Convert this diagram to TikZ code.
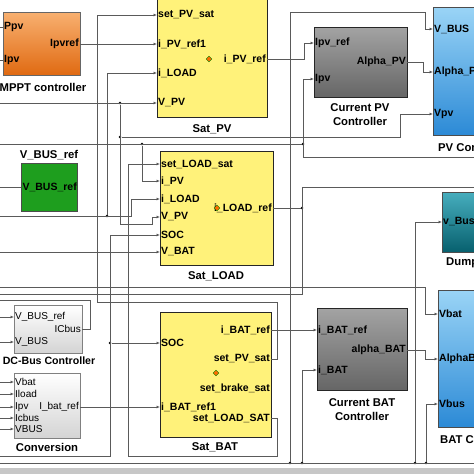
\documentclass[tikz,border=0pt]{standalone}
\usepackage{fontspec}
\setmainfont{Liberation Sans}
\usetikzlibrary{arrows.meta,shadows}

\definecolor{wiregray}{HTML}{5A5A5A}
\definecolor{satyellow}{HTML}{FFF27A}
\definecolor{orangetop}{HTML}{F8B070}
\definecolor{orangebot}{HTML}{E06A12}
\definecolor{graytop}{HTML}{A3A3A3}
\definecolor{graybot}{HTML}{666666}
\definecolor{bluetop}{HTML}{9AD4F6}
\definecolor{bluebot}{HTML}{2C8AD6}
\definecolor{tealtop}{HTML}{47AEBE}
\definecolor{tealbot}{HTML}{07606E}
\definecolor{simgreen}{HTML}{1E9E1E}
\definecolor{lightbot}{HTML}{D4D4D4}

\begin{document}
\begin{tikzpicture}[x=1pt,y=-1pt,
  wire/.style={draw=wiregray,line width=0.7pt},
  sig/.style={wire,-{Latex[length=3.5pt,width=3pt]}},
  dot/.style={circle,fill=black,inner sep=0pt,minimum size=2.6pt},
  blk/.style={draw=black!85,line width=0.6pt,inner sep=0pt,
    drop shadow={shadow xshift=1.3pt,shadow yshift=-1.3pt,opacity=0.6,fill=black!50}},
  satblk/.style={blk,fill=satyellow},
  ctrlblk/.style={blk,top color=graytop,bottom color=graybot},
  convblk/.style={blk,top color=bluetop,bottom color=bluebot,draw=black!70},
  lightblk/.style={blk,top color=white,bottom color=lightbot,draw=black!50},
  port/.style={inner sep=1pt,font=\fontsize{10.5}{12}\selectfont\bfseries},
  smallport/.style={inner sep=1pt,font=\fontsize{10}{12}\selectfont},
  title/.style={inner sep=0pt,font=\fontsize{11.3}{14}\selectfont\bfseries,align=center},
  fcnicon/.style={fill=orange!85!red,draw=green!50!black,line width=0.4pt,minimum size=4pt,inner sep=0pt,rotate=45},
]
\clip (0,0) rectangle (474,474);
\fill[white] (0,0) rectangle (474,474);

% blocks
\node[blk,top color=orangetop,bottom color=orangebot,draw=black!60,minimum width=77pt,minimum height=63pt] (mppt) at (41.5,43.5) {};
\node[satblk,minimum width=110pt,minimum height=122pt] (satpv) at (212,56) {};
\node[ctrlblk,minimum width=93pt,minimum height=70pt] (curpv) at (360.5,62) {};
\node[convblk,minimum width=57pt,minimum height=128pt] (pvconv) at (461.5,71) {};
\node[blk,fill=simgreen,draw=black!70,minimum width=56pt,minimum height=48pt] (vbusref) at (49,187) {};
\node[satblk,minimum width=113pt,minimum height=114pt] (satload) at (216.5,208) {};
\node[blk,top color=tealtop,bottom color=tealbot,draw=black!70,minimum width=48pt,minimum height=60pt] (dump) at (466,222) {};
\node[lightblk,minimum width=68pt,minimum height=48pt] (dcbus) at (48,329) {};
\node[lightblk,minimum width=66pt,minimum height=65pt] (conv) at (47,405.5) {};
\node[satblk,minimum width=111pt,minimum height=125pt] (satbat) at (215.5,374.5) {};
\node[ctrlblk,minimum width=90pt,minimum height=82pt] (curbat) at (362,349) {};
\node[convblk,minimum width=52pt,minimum height=137pt] (batconv) at (464,358.5) {};

% titles
\node[title] (t-mppt) at (43,87) {MPPT controller};
\node[title] (t-satpv) at (212,129) {Sat\_PV};
\node[title] (t-curpv) at (360,115) {Current PV\\Controller};
\node[title,anchor=west] (t-pvconv) at (438,148) {PV Converter};
\node[title] (t-vbusref) at (49,155) {V\_BUS\_ref};
\node[title] (t-satload) at (216,276) {Sat\_LOAD};
\node[title,anchor=west] (t-dump) at (446,263) {Dump Load};
\node[title,font=\fontsize{10.6}{13}\selectfont\bfseries] (t-dcbus) at (49,361) {DC-Bus Controller};
\node[title] (t-conv) at (47,447) {Conversion};
\node[title] (t-satbat) at (215,447) {Sat\_BAT};
\node[title] (t-curbat) at (362,410) {Current BAT\\Controller};
\node[title,anchor=west] (t-batconv) at (440,440) {BAT Converter};

% ports
\coordinate (mppt-i1) at (3,27); \node[port,anchor=west] (l-mppt-i1) at (mppt-i1) {Ppv};
\coordinate (mppt-i2) at (3,60); \node[port,anchor=west] (l-mppt-i2) at (mppt-i2) {Ipv};
\coordinate (mppt-o1) at (80,44); \node[port,anchor=east] (l-mppt-o1) at (mppt-o1) {Ipvref};

\coordinate (satpv-i1) at (157,15); \node[port,anchor=west] (l-satpv-i1) at (satpv-i1) {set\_PV\_sat};
\coordinate (satpv-i2) at (157,44); \node[port,anchor=west] (l-satpv-i2) at (satpv-i2) {i\_PV\_ref1};
\coordinate (satpv-i3) at (157,73); \node[port,anchor=west] (l-satpv-i3) at (satpv-i3) {i\_LOAD};
\coordinate (satpv-i4) at (157,103); \node[port,anchor=west] (l-satpv-i4) at (satpv-i4) {V\_PV};
\coordinate (satpv-o1) at (267,59); \node[port,anchor=east] (l-satpv-o1) at (satpv-o1) {i\_PV\_ref};
\node[fcnicon] (ic-satpv) at (209,59) {};

\coordinate (curpv-i1) at (314,43); \node[port,anchor=west] (l-curpv-i1) at (curpv-i1) {Ipv\_ref};
\coordinate (curpv-i2) at (314,79); \node[port,anchor=west] (l-curpv-i2) at (curpv-i2) {Ipv};
\coordinate (curpv-o1) at (407,62); \node[port,anchor=east] (l-curpv-o1) at (curpv-o1) {Alpha\_PV};

\coordinate (pvconv-i1) at (433,29); \node[port,anchor=west] (l-pvconv-i1) at (pvconv-i1) {V\_BUS};
\coordinate (pvconv-i2) at (433,72); \node[port,anchor=west] (l-pvconv-i2) at (pvconv-i2) {Alpha\_PV};
\coordinate (pvconv-i3) at (433,114); \node[port,anchor=west] (l-pvconv-i3) at (pvconv-i3) {Vpv};

\coordinate (vbusref-o1) at (77,187); \node[port,anchor=east,inner sep=0pt] (l-vbusref-o1) at (vbusref-o1) {V\_BUS\_ref};

\coordinate (satload-i1) at (160,164); \node[port,anchor=west] (l-satload-i1) at (satload-i1) {set\_LOAD\_sat};
\coordinate (satload-i2) at (160,181); \node[port,anchor=west] (l-satload-i2) at (satload-i2) {i\_PV};
\coordinate (satload-i3) at (160,199); \node[port,anchor=west] (l-satload-i3) at (satload-i3) {i\_LOAD};
\coordinate (satload-i4) at (160,217); \node[port,anchor=west] (l-satload-i4) at (satload-i4) {V\_PV};
\coordinate (satload-i5) at (160,235); \node[port,anchor=west] (l-satload-i5) at (satload-i5) {SOC};
\coordinate (satload-i6) at (160,252); \node[port,anchor=west] (l-satload-i6) at (satload-i6) {V\_BAT};
\coordinate (satload-o1) at (273,208); \node[port,anchor=east] (l-satload-o1) at (satload-o1) {i\_LOAD\_ref};
\node[fcnicon] (ic-satload) at (217,208) {};

\coordinate (dump-i1) at (442,222); \node[port,anchor=west] (l-dump-i1) at (dump-i1) {v\_Bus};

\coordinate (dcbus-i1) at (14,317); \node[smallport,anchor=west] (l-dcbus-i1) at (dcbus-i1) {V\_BUS\_ref};
\coordinate (dcbus-i2) at (14,342); \node[smallport,anchor=west] (l-dcbus-i2) at (dcbus-i2) {V\_BUS};
\coordinate (dcbus-o1) at (82,329); \node[smallport,anchor=east] (l-dcbus-o1) at (dcbus-o1) {ICbus};

\coordinate (conv-i1) at (14,382); \node[smallport,anchor=west] (l-conv-i1) at (conv-i1) {Vbat};
\coordinate (conv-i2) at (14,394); \node[smallport,anchor=west] (l-conv-i2) at (conv-i2) {Iload};
\coordinate (conv-i3) at (14,407); \node[smallport,anchor=west] (l-conv-i3) at (conv-i3) {Ipv};
\coordinate (conv-i4) at (14,418); \node[smallport,anchor=west] (l-conv-i4) at (conv-i4) {Icbus};
\coordinate (conv-i5) at (14,429); \node[smallport,anchor=west] (l-conv-i5) at (conv-i5) {VBUS};
\coordinate (conv-o1) at (80,407); \node[smallport,anchor=east] (l-conv-o1) at (conv-o1) {I\_bat\_ref};

\coordinate (satbat-i1) at (160,343); \node[port,anchor=west] (l-satbat-i1) at (satbat-i1) {SOC};
\coordinate (satbat-i2) at (160,407); \node[port,anchor=west] (l-satbat-i2) at (satbat-i2) {i\_BAT\_ref1};
\coordinate (satbat-o1) at (271,330); \node[port,anchor=east] (l-satbat-o1) at (satbat-o1) {i\_BAT\_ref};
\coordinate (satbat-o2) at (271,359); \node[port,anchor=east] (l-satbat-o2) at (satbat-o2) {set\_PV\_sat};
\coordinate (satbat-o3) at (271,388); \node[port,anchor=east] (l-satbat-o3) at (satbat-o3) {set\_brake\_sat};
\coordinate (satbat-o4) at (271,418); \node[port,anchor=east] (l-satbat-o4) at (satbat-o4) {set\_LOAD\_SAT};
\node[fcnicon] (ic-satbat) at (216,373) {};

\coordinate (curbat-i1) at (317,330); \node[port,anchor=west] (l-curbat-i1) at (curbat-i1) {i\_BAT\_ref};
\coordinate (curbat-i2) at (317,370); \node[port,anchor=west] (l-curbat-i2) at (curbat-i2) {i\_BAT};
\coordinate (curbat-o1) at (407,350); \node[port,anchor=east] (l-curbat-o1) at (curbat-o1) {alpha\_BAT};

\coordinate (batconv-i1) at (438,314); \node[port,anchor=west] (l-batconv-i1) at (batconv-i1) {Vbat};
\coordinate (batconv-i2) at (438,359); \node[port,anchor=west] (l-batconv-i2) at (batconv-i2) {AlphaBAT};
\coordinate (batconv-i3) at (438,404); \node[port,anchor=west] (l-batconv-i3) at (batconv-i3) {Vbus};

% free ends at the picture border
\foreach \y in {27,60,103,144,187,216,252,287,294,300,317,342,382,394,407,418,429,456,463}
  \coordinate (lft\y) at (0,\y);
\foreach \y in {157,187,463}
  \coordinate (rgt\y) at (474,\y);

% branch points
\node[dot] (j-vpv1) at (120,103) {};
\node[dot] (j-vpv2) at (120,137) {};
\node[dot] (j-ipv1) at (142,144) {};
\node[dot] (j-ipv2) at (303,144) {};
\node[dot] (j-iload) at (107,216) {};
\node[dot] (j-ilref) at (302,208) {};
\node[dot] (j-soc) at (110,343) {};
\node[dot] (j-vbus) at (290,463) {};
\node[dot] (j-ibat) at (302,463) {};
\node[dot] (j-dump) at (415,463) {};
\node[dot] (j-vbat) at (426,463) {};

% wires
\draw[wire] (lft27) -- (mppt-i1);
\draw[wire] (lft60) -- (mppt-i2);
\draw[sig] (mppt-o1) -- (satpv-i2);
\draw[sig] (satbat-o2) -| (277,302) -| (97,15) -- (satpv-i1);
\draw[sig] (satpv-o1) -| (304,43) -- (curpv-i1);
\draw[sig] (curpv-o1) -| (423,72) -- (pvconv-i2);
\draw[sig] (j-vbus) -- (290,12) -| (425,29) -- (pvconv-i1);
\draw[sig] (lft103) -- (satpv-i4);
\draw[sig] (j-vpv1) -- (120,224) -| (152,217) -- (satload-i4);
\draw[sig] (j-vpv2) -| (400,114) -- (pvconv-i3);
\draw[sig] (lft216) -- (131,216) |- (satload-i3);
\draw[sig] (j-iload) |- (satpv-i3);
\draw[wire] (lft144) -- (j-ipv2);
\draw[sig] (j-ipv1) |- (satload-i2);
\draw[sig] (rgt157) -| (303,79) -- (curpv-i2);
\draw[wire] (lft187) -- (vbusref.west);
\draw[sig] (satbat-o4) -| (277,456) -| (128,164) -- (satload-i1);
\draw[sig] (lft456) -| (110,235) -- (satload-i5);
\draw[sig] (j-soc) -- (satbat-i1);
\draw[sig] (lft252) -- (satload-i6);
\draw[wire] (satload-o1) -- (j-ilref);
\draw[wire] (lft294) -| (302,187) -- (rgt187);
\draw[sig] (lft287) -| (425,314) -- (batconv-i1);
\draw[sig] (lft317) -- (dcbus-i1);
\draw[sig] (lft342) -- (dcbus-i2);
\draw[wire] (dcbus-o1) -| (90,300) -- (lft300);
\foreach \k/\y in {1/382,2/394,3/407,4/418,5/429}
  \draw[sig] (lft\y) -- (conv-i\k);
\draw[sig] (conv-o1) -- (satbat-i2);
\draw[sig] (satbat-o1) -- (curbat-i1);
\draw[sig] (curbat-o1) -| (425,359) -- (batconv-i2);
\draw[sig] (j-ibat) |- (curbat-i2);
\draw[sig] (j-dump) |- (dump-i1);
\draw[sig] (j-vbat) |- (batconv-i3);
\draw[wire] (lft463) -- (rgt463);
\fill[black!22] (0,468) rectangle (474,474);

\end{tikzpicture}
\end{document}
